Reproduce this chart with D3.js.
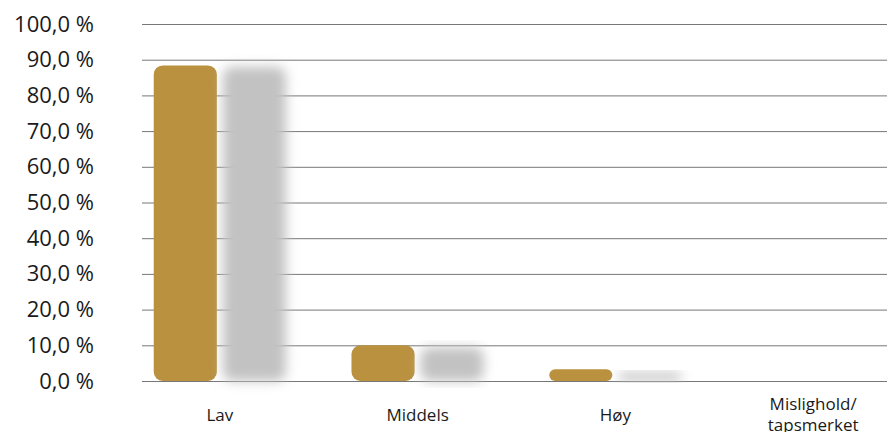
<!DOCTYPE html>
<html>
<head>
<meta charset="utf-8">
<script src="https://cdn.jsdelivr.net/npm/d3@7"></script>
<style>
  html, body { margin: 0; padding: 0; background: #ffffff; }
  svg { display: block; }
  text { font-family: "Open Sans", Lato, sans-serif; fill: #1a1a1a; }
</style>
</head>
<body>
<svg id="chart" width="887" height="432"></svg>
<script>
// Risk classes along the x axis (label lines split on "/")
const categories = ["Lav", "Middels", "Høy", "Mislighold/tapsmerket"];
const seriesNames = ["A", "B"];
// Share of exposure per risk class (percent)
const seriesA = [88.4, 10.0, 3.3, 0.0];
const seriesB = [88.0, 9.4, 2.4, 0.0];
const yTicks = [0, 10, 20, 30, 40, 50, 60, 70, 80, 90, 100];

const colors = { A: "#B9913F", B: "#C2C2C2" };

const svg = d3.select("#chart");
const plotLeft = 142, plotRight = 887, plotTop = 24, plotBottom = 381;

const nb = d3.formatLocale({ decimal: ",", thousands: " ", grouping: [3], currency: ["", ""] });
const fmt = v => nb.format(".1f")(v) + " %";

const y = d3.scaleLinear().domain([0, 100]).range([plotBottom, plotTop]);
const x = d3.scaleBand().domain(categories).range([121, 912])
  .paddingInner(0.331).paddingOuter(0.1655);
const xs = d3.scaleBand().domain(seriesNames).range([0, x.bandwidth()]).paddingInner(0.087);

const defs = svg.append("defs");
defs.append("filter").attr("id", "soft")
  .attr("x", "-40%").attr("y", "-20%").attr("width", "180%").attr("height", "140%")
  .append("feGaussianBlur").attr("stdDeviation", 6);

// Gridlines and y tick labels
const yAxis = d3.axisLeft(y).tickValues(yTicks).tickFormat(fmt)
  .tickSize(-(plotRight - plotLeft)).tickPadding(48);
const gy = svg.append("g").attr("transform", `translate(${plotLeft},0)`).call(yAxis);
gy.select(".domain").remove();
gy.selectAll(".tick line").attr("stroke", "#777777").attr("stroke-width", 1);
gy.selectAll(".tick text").attr("font-size", 22).attr("fill", "#1a1a1a")
  .attr("font-family", "'Open Sans', Lato, sans-serif");

// Bars
const rows = categories.map((c, i) => ({ cat: c, A: seriesA[i], B: seriesB[i] }));
const groups = svg.append("g").selectAll("g").data(rows).join("g")
  .attr("transform", d => `translate(${x(d.cat)},0)`);

groups.selectAll("rect")
  .data(d => seriesNames.map(k => ({ key: k, value: d[k] })).filter(e => e.value > 0))
  .join("rect")
  .attr("x", e => xs(e.key))
  .attr("width", xs.bandwidth())
  .attr("y", e => y(e.value))
  .attr("height", e => y(0) - y(e.value))
  .attr("rx", e => Math.min(9, (y(0) - y(e.value)) / 2))
  .attr("fill", e => colors[e.key])
  .attr("filter", e => e.key === "B" ? "url(#soft)" : null);

// Category labels
const xl = svg.append("g").selectAll("text").data(categories).join("text")
  .attr("text-anchor", "middle")
  .attr("font-size", 17)
  .attr("transform", d => `translate(${x(d) + x.bandwidth() / 2},0)`);
xl.each(function (d) {
  const parts = d.includes("/") ? [d.slice(0, d.indexOf("/") + 1), d.slice(d.indexOf("/") + 1)] : [d];
  const t = d3.select(this);
  const base = parts.length > 1 ? 410 : 421;
  parts.forEach((p, i) => t.append("tspan").attr("x", 0).attr("y", base + i * 21).text(p));
});
</script>
</body>
</html>
